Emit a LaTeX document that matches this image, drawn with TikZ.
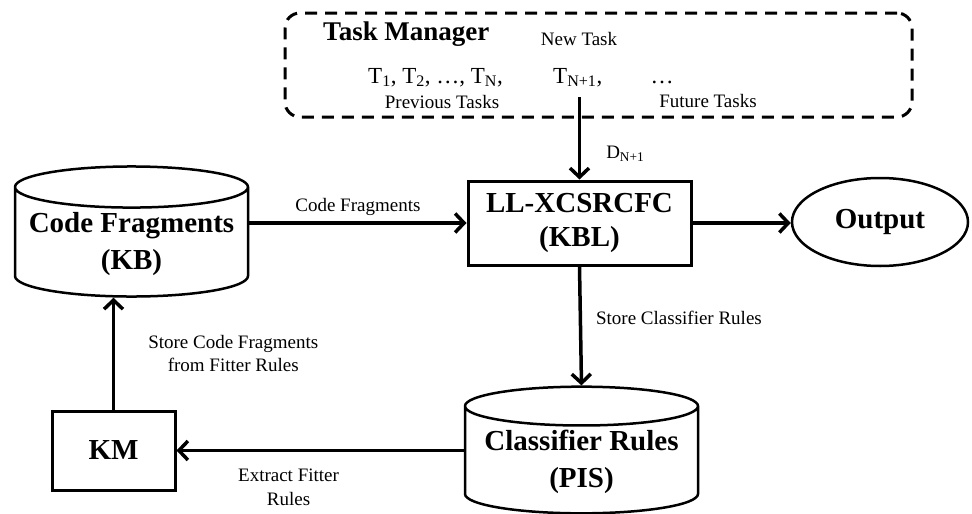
\documentclass[tikz,border=0pt]{standalone}
\usepackage{fontspec}
\setmainfont{Liberation Serif}
\usetikzlibrary{arrows.meta,shapes.geometric,positioning}

\tikzset{
  block/.style={draw, line width=3pt, fill=white, align=center,
    font=\fontsize{29}{34}\selectfont\bfseries},
  store/.style={cylinder, shape border rotate=90, aspect=0.2, draw, inner sep=0pt,
    text height=61pt, anchor=shape center, line width=2.5pt, align=center,
    font=\fontsize{29}{37}\selectfont\bfseries},
  lbl/.style={inner sep=0pt, align=center, font=\fontsize{19}{23.5}\selectfont},
  flow/.style={line width=3.5pt, -{Straight Barb[length=9pt,width=19pt]}},
}

\begin{document}
\begin{tikzpicture}[x=1pt, y=-1pt]
    \useasboundingbox (0,0) rectangle (972,514);

    % task manager with the stream of tasks
    \node[draw, line width=3pt, dash pattern=on 12pt off 8pt, rounded corners=15pt,
      minimum width=627pt, minimum height=104pt] (tm) at (598.5, 65) {};
    \node[inner sep=0pt, anchor=base west, font=\fontsize{27}{30}\selectfont\bfseries]
      (tmtitle) at (323, 40) {Task Manager};
    \node[lbl, anchor=base] (newtask) at (579, 45) {New Task};
    \node[inner sep=0pt, anchor=base west, font=\fontsize{23}{26}\selectfont]
      (tprev) at (368, 83) {T\textsubscript{1}, T\textsubscript{2}, \ldots, T\textsubscript{N},};
    \node[inner sep=0pt, anchor=base west, font=\fontsize{23}{26}\selectfont]
      (tnext) at (553, 83) {T\textsubscript{N+1},};
    \node[inner sep=0pt, anchor=base, font=\fontsize{23}{26}\selectfont]
      (tfut) at (662, 83) {\ldots};
    \node[lbl, anchor=base] (prevlbl) at (442, 108) {Previous Tasks};
    \node[lbl, anchor=base] (futlbl) at (708, 107) {Future Tasks};
    \coordinate (newin) at (579.5, 97);

    % learner, stores and output
    \node[block, minimum width=223pt, minimum height=84pt] (kbl) at (579.5, 223)
      {LL-XCSRCFC\\(KBL)};
    \node[draw, ellipse, line width=2.5pt, minimum width=176pt, minimum height=88pt,
      font=\fontsize{29}{36}\selectfont\bfseries] (out) at (880, 222) {Output};
    \node[store, minimum width=233pt, minimum height=117pt] (cf) at (131.5, 231.5)
      {Code Fragments\\(KB)};
    \node[store, minimum width=233pt, minimum height=124pt] (cr) at (581.5, 450)
      {Classifier Rules\\(PIS)};
    \node[block, minimum width=123pt, minimum height=79pt] (km) at (113.5, 450.5) {KM};

    % flows
    \draw[flow] (newin) -- (kbl.north)
      node[lbl, pos=0.69, right=25pt] {D\textsubscript{N+1}};
    \draw[flow] (cf.east |- kbl.west) -- (kbl.west)
      node[lbl, midway, above=6pt] {Code Fragments};
    \draw[flow] (kbl.east) -- (kbl.east -| out.west);
    \draw[flow] (kbl.south) -- (cr.north)
      node[lbl, pos=0.43, right=14pt] {Store Classifier Rules};
    \draw[flow] (cr.west |- km.east) -- (km.east)
      node[lbl, pos=0.61, below=17pt] {Extract Fitter\\Rules};
    \draw[flow] (km.north) -- (km.north |- cf.south)
      node[lbl, midway, right=33pt] {Store Code Fragments\\from Fitter Rules};
\end{tikzpicture}
\end{document}
